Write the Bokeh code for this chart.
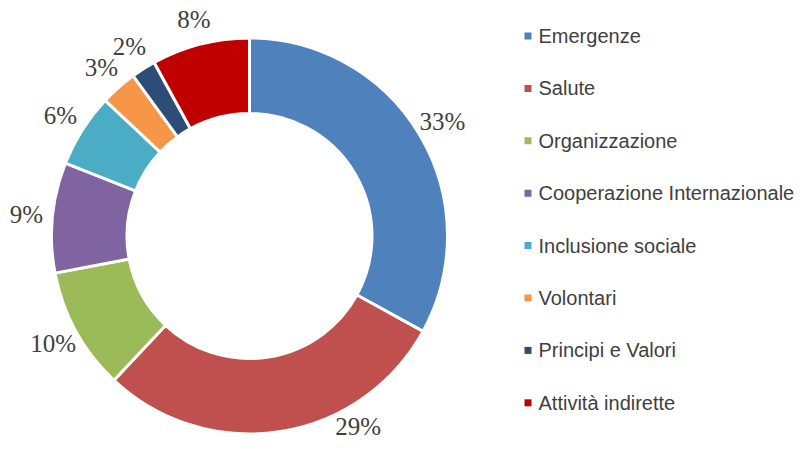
import numpy as np
from bokeh.plotting import figure
from bokeh.models import ColumnDataSource, Range1d
from bokeh.core.properties import value
from bokeh.embed import file_html
from bokeh.resources import INLINE

categories = ["Emergenze", "Salute", "Organizzazione", "Cooperazione Internazionale",
              "Inclusione sociale", "Volontari", "Principi e Valori", "Attività indirette"]
shares = [33, 29, 10, 9, 6, 3, 2, 8]
labels = ["33%", "29%", "10%", "9%", "6%", "3%", "2%", "8%"]
colors = ["#4F81BD", "#C0504D", "#9BBB59", "#8064A2", "#4BACC6", "#F79646", "#2C4D75", "#C00000"]

W, H = 795, 441
p = figure(width=W, height=H, x_range=Range1d(0, W), y_range=Range1d(0, H),
           output_backend="svg", toolbar_location=None, min_border=0,
           x_axis_location=None, y_axis_location=None)
p.grid.visible = False
p.outline_line_color = None

total = float(sum(shares))
frac = np.array(shares) / total
cum_end = np.cumsum(frac)
cum_start = cum_end - frac
start = np.pi / 2 - 2 * np.pi * cum_start
end = np.pi / 2 - 2 * np.pi * cum_end
mid = np.pi / 2 - 2 * np.pi * (cum_start + frac / 2)

cx, cy = 249.0, 205.5
r_in, r_out = 122.5, 198.0

src = ColumnDataSource(dict(cat=categories, start=start, end=end, color=colors))
p.annular_wedge(x=cx, y=cy, inner_radius=r_in, outer_radius=r_out,
                start_angle="start", end_angle="end", direction="clock",
                fill_color="color", line_color="white", line_width=3, source=src)

# data labels: outside the ring at each slice's mid-angle, kept inside the canvas
r_lab = 224.0
font_px = 25.0
half_h = 0.56 * font_px
lx = cx + r_lab * np.cos(mid)
ly = cy + r_lab * np.sin(mid)
y_min = half_h + 1.0
for i in range(len(labels)):
    if ly[i] < y_min:
        ly[i] = y_min
        half_w = 0.31 * font_px * len(labels[i])
        glyph_top = y_min + 0.3 * font_px
        dy = cy - glyph_top
        need = np.sqrt(max((r_out + 4) ** 2 - dy ** 2, 0.0))
        sgn = 1.0 if np.cos(mid[i]) >= 0 else -1.0
        lx[i] = cx + sgn * (need + half_w)
lsrc = ColumnDataSource(dict(x=lx, y=ly, t=labels))
p.text(x="x", y="y", text="t", source=lsrc, text_align="center", text_baseline="middle",
       text_font=value("Liberation Serif"), text_font_size="25px", text_color="#404040")

# legend
n = len(categories)
leg_x = 527.5
leg_top = H - 35.5
step = 52.4
gy = leg_top - step * np.arange(n)
gsrc = ColumnDataSource(dict(x=[leg_x] * n, tx=[leg_x + 10.5] * n, y=gy, t=categories, color=colors))
p.scatter(x="x", y="y", marker="square", size=7, fill_color="color", line_color=None, source=gsrc)
p.text(x="tx", y="y", text="t", source=gsrc, text_align="left", text_baseline="middle",
       text_font=value("Liberation Sans"), text_font_size="20px", text_color="#404040")

open("out.html", "w").write(file_html(p, INLINE))
